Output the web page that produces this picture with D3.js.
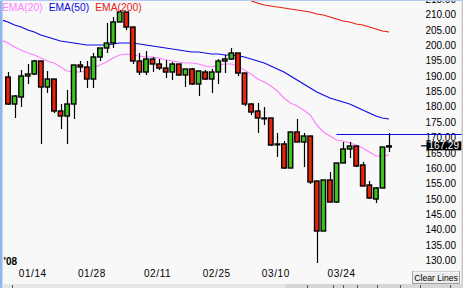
<!DOCTYPE html>
<html><head><meta charset="utf-8">
<script src="https://cdn.jsdelivr.net/npm/d3@7/dist/d3.min.js"></script>
<style>html,body{margin:0;padding:0;background:#f8f8f8;overflow:hidden}svg{display:block}</style>
</head><body><svg id="c" width="463" height="288"></svg>
<script>
const dates = ["01/08","01/09","01/10","01/11","01/14","01/15","01/16","01/17","01/18","01/22",
"01/23","01/24","01/25","01/28","01/29","01/30","01/31","02/01","02/04","02/05",
"02/06","02/07","02/08","02/11","02/12","02/13","02/14","02/15","02/19","02/20",
"02/21","02/22","02/25","02/26","02/27","02/28","02/29","03/03","03/04","03/05",
"03/06","03/10","03/11","03/12","03/13","03/14","03/17","03/18","03/19","03/20",
"03/21","03/24","03/25","03/26","03/27","03/28","03/31","04/01","04/02"];
const tickDates = ["01/14","01/28","02/11","02/25","03/10","03/24"];
const yearLabel = "'08";
const openP = [189.67,180.89,183.17,190.00,190.65,194.88,186.42,189.02,178.62,176.99,
180.89,193.58,192.93,189.02,196.18,199.11,200.73,207.56,210.81,205.93,
194.88,191.30,195.53,193.90,192.60,191.30,193.90,190.33,192.28,187.40,
191.30,189.02,191.30,194.88,195.53,197.48,190.97,180.89,178.62,176.34,
176.34,167.89,167.89,160.08,171.79,168.54,170.49,155.85,139.59,156.18,
149.02,161.71,166.26,167.23,161.06,154.55,150.00,153.58,166.91];
const highP = [191.30,183.82,191.95,193.90,195.20,195.00,191.63,189.02,180.89,185.45,
193.58,194.88,194.88,197.48,199.11,207.24,209.19,211.46,210.81,205.93,
197.48,198.13,196.18,195.53,195.20,194.55,193.90,192.28,192.60,191.63,
191.95,192.28,195.53,196.83,199.11,197.48,190.97,181.22,181.22,179.91,
176.34,171.46,168.86,171.79,176.01,171.46,170.49,155.85,156.18,158.78,
161.71,168.54,168.54,167.23,162.03,155.85,153.90,166.91,171.46];
const lowP = [180.57,176.34,179.91,187.40,190.33,167.89,184.47,177.97,172.76,167.89,
176.01,191.30,186.10,186.10,194.88,197.48,199.11,207.56,204.96,193.90,
190.33,190.33,191.30,191.95,189.35,188.70,190.00,186.42,187.07,183.49,
188.70,184.47,187.40,190.97,195.20,190.00,180.24,177.31,171.46,174.06,
167.23,163.66,159.76,160.08,168.54,160.41,154.88,129.19,139.59,149.02,
148.70,161.71,163.33,160.41,154.23,150.00,148.70,153.58,165.28];
const closeP = [180.89,183.49,190.00,190.65,194.88,186.42,189.02,178.62,176.99,180.89,
193.58,192.93,189.02,196.18,199.11,200.73,207.56,210.81,205.93,194.88,
191.30,195.53,193.90,192.60,191.30,193.90,190.33,192.28,187.40,191.63,
189.02,191.30,194.88,195.53,197.48,190.97,180.89,178.29,176.34,176.34,
167.56,167.89,160.08,171.79,168.54,170.49,155.53,139.59,156.18,149.02,
161.71,166.26,167.23,160.73,154.23,150.33,153.58,166.91,167.29];
// moving averages; first value belongs to the session before 01/08
const ema20 = [201.71,200.73,199.43,198.45,197.48,196.83,195.85,194.88,194.23,192.93,191.63,
191.30,191.30,191.63,192.60,193.58,194.55,195.85,196.83,197.16,196.83,
196.50,196.18,196.18,195.85,195.20,194.88,194.55,194.23,194.23,193.90,
193.25,192.93,193.58,193.90,193.90,193.25,191.95,190.65,189.02,188.05,
186.75,185.12,182.85,181.22,180.24,178.94,177.31,174.06,171.79,170.49,
169.19,168.86,168.21,167.56,166.59,165.28,163.98,163.98,164.31];
const ema50 = [208.21,207.56,206.58,205.93,204.96,204.31,203.33,202.68,202.03,201.38,201.06,
200.73,200.41,200.08,200.08,200.08,200.08,200.41,200.73,200.73,200.73,
200.41,200.08,199.76,199.43,199.11,198.78,198.45,198.13,197.81,197.81,
197.48,197.16,197.16,196.83,196.83,196.50,196.18,195.53,194.88,194.23,
193.25,192.28,191.30,190.00,188.70,187.40,186.10,184.80,183.82,182.85,
182.20,181.54,180.89,179.92,178.94,177.97,176.99,176.34,176.01];
const ema200 = [null,null,null,null,null,null,null,null,null,null,null,
null,null,null,null,null,null,null,null,null,null,
null,null,null,null,null,null,null,null,null,null,
null,null,null,null,null,null,null,214.40,213.74,213.09,
212.76,212.44,212.11,211.79,211.46,211.14,210.81,210.16,209.84,209.19,
208.54,207.89,207.56,206.91,206.58,205.93,205.28,204.63,204.31];
const lastPrice = 167.29;
const userLineValue = 171.1;
const userLineFrom = "03/21";
const yTicks = d3.range(130, 216, 5);
const legend = [{name:"EMA(20)", color:"#ff80ff"},{name:"EMA(50)", color:"#0a0ae6"},{name:"EMA(200)", color:"#e62010"}];

const svg = d3.select("#c");
const W = 463, H = 288;
svg.append("rect").attr("width",W).attr("height",H).attr("fill","#f8f8f8");

const x = d3.scaleBand().domain(dates).range([4.7, 4.7 + dates.length*6.57]).paddingInner(0.16).paddingOuter(0.08);
const step = x.step();
const xc = i => i < 0 ? x(dates[0]) + x.bandwidth()/2 - step : x(dates[i]) + x.bandwidth()/2;
const y = d3.scaleLinear().domain([130, 210]).range([260.5, 14.5]);

const defs = svg.append("defs");
defs.append("clipPath").attr("id","plot").append("rect").attr("x",3).attr("y",1).attr("width",418).attr("height",266);

// y axis labels (right)
const yAxis = d3.axisRight(y).tickValues(yTicks).tickSize(0).tickPadding(0).tickFormat(d => d3.format(".2f")(d));
const ga = svg.append("g").attr("transform","translate(456,0)").call(yAxis);
ga.select(".domain").remove();
ga.selectAll("text").attr("text-anchor","end").attr("x",0)
  .attr("font-family","Liberation Sans, Arial, sans-serif").attr("font-size",10).attr("fill","#000");

// x axis labels
const xAxis = d3.axisBottom(x).tickValues(tickDates).tickSize(0).tickPadding(0);
const gx = svg.append("g").attr("transform","translate(-1.5,270)").call(xAxis);
gx.select(".domain").remove();
gx.selectAll("text").attr("font-family","Liberation Sans, Arial, sans-serif").attr("font-size",10)
  .attr("fill","#000").attr("letter-spacing","0.6").attr("dy","0.71em");
svg.append("text").attr("x",3.5).attr("y",265).text(yearLabel)
  .attr("font-family","Liberation Sans, Arial, sans-serif").attr("font-size",10).attr("font-weight","bold");

const plot = svg.append("g").attr("clip-path","url(#plot)");

// moving averages
const lineGen = arr => d3.line().defined(d => d != null).x((d,i) => xc(i-1)).y(d => y(d))(arr);
[[ema200,"#e62010"],[ema50,"#0a0ae6"],[ema20,"#ff80ff"]].forEach(([arr,c]) => {
  plot.append("path").attr("d", lineGen(arr)).attr("fill","none").attr("stroke",c).attr("stroke-width",1.2);
});

// candles
const idx = d3.range(dates.length);
const bw = x.bandwidth();
const cg = plot.append("g");
cg.selectAll("line.w").data(idx).join("line")
  .attr("x1", i => Math.round(xc(i))+0.5).attr("x2", i => Math.round(xc(i))+0.5)
  .attr("y1", i => y(highP[i])).attr("y2", i => y(lowP[i]))
  .attr("stroke","#000").attr("stroke-width",1.2);
cg.selectAll("rect.b").data(idx).join("rect")
  .attr("x", i => xc(i) - bw/2 + 0.5).attr("width", bw - 1)
  .attr("y", i => y(Math.max(openP[i], closeP[i])))
  .attr("height", i => Math.max(0.8, Math.abs(y(openP[i]) - y(closeP[i]))))
  .attr("fill", i => closeP[i] >= openP[i] ? "#3cc31c" : "#e8250a")
  .attr("stroke","#000").attr("stroke-width",1.4);

// user horizontal line
svg.append("line").attr("x1", xc(dates.indexOf(userLineFrom))).attr("x2", 462)
  .attr("y1", Math.round(y(userLineValue))+0.5).attr("y2", Math.round(y(userLineValue))+0.5)
  .attr("stroke","#0a0ae6").attr("stroke-width",1.2);

// last price marker
const ly = y(lastPrice);
svg.append("line").attr("x1",421).attr("x2",427).attr("y1",ly).attr("y2",ly).attr("stroke","#000").attr("stroke-width",1.2);
svg.append("rect").attr("x",426.5).attr("y",ly-4.5).attr("width",35).attr("height",9).attr("fill","#000");
svg.append("text").attr("x",459).attr("y",ly).attr("dy","0.36em").attr("text-anchor","end")
  .attr("font-family","Liberation Sans, Arial, sans-serif").attr("font-size",10).attr("fill","#fff")
  .text(d3.format(".2f")(lastPrice));

// legend
let lx = 2;
const lg = svg.append("g");
legend.forEach(l => {
  const t = lg.append("text").attr("x",lx).attr("y",11).text(l.name).attr("fill",l.color)
    .attr("font-family","Liberation Sans, Arial, sans-serif").attr("font-size",10.3);
  lx += t.node().getComputedTextLength() + 6;
});

// frame
svg.append("rect").attr("x",0).attr("y",0).attr("width",2.5).attr("height",H).attr("fill","#8fb6e8");
svg.append("rect").attr("x",0).attr("y",0).attr("width",W).attr("height",1).attr("fill","#b0ccef");
svg.append("rect").attr("x",461.5).attr("y",0).attr("width",1.5).attr("height",H).attr("fill","#c8c8c8");

// bottom strip
svg.append("rect").attr("x",2.5).attr("y",284).attr("width",W).attr("height",4).attr("fill","#e6e6e6");
svg.append("rect").attr("x",285).attr("y",284).attr("width",178).attr("height",4).attr("fill","#d6d6d6");
[12,307,333,343,357,377,400,420,450].forEach(tx => svg.append("line").attr("x1",tx+0.5).attr("x2",tx+0.5).attr("y1",285).attr("y2",288).attr("stroke","#555"));

// Clear Lines button
const btn = svg.append("g");
btn.append("rect").attr("x",412.5).attr("y",271.5).attr("width",47).attr("height",12).attr("fill","#ececec").attr("stroke","#a0a0a0");
btn.append("line").attr("x1",413).attr("x2",459).attr("y1",272).attr("y2",272).attr("stroke","#fff");
btn.append("text").attr("x",436).attr("y",280.5).attr("text-anchor","middle").text("Clear Lines")
  .attr("font-family","Liberation Sans, Arial, sans-serif").attr("font-size",8.6).attr("fill","#000");
</script></body></html>
